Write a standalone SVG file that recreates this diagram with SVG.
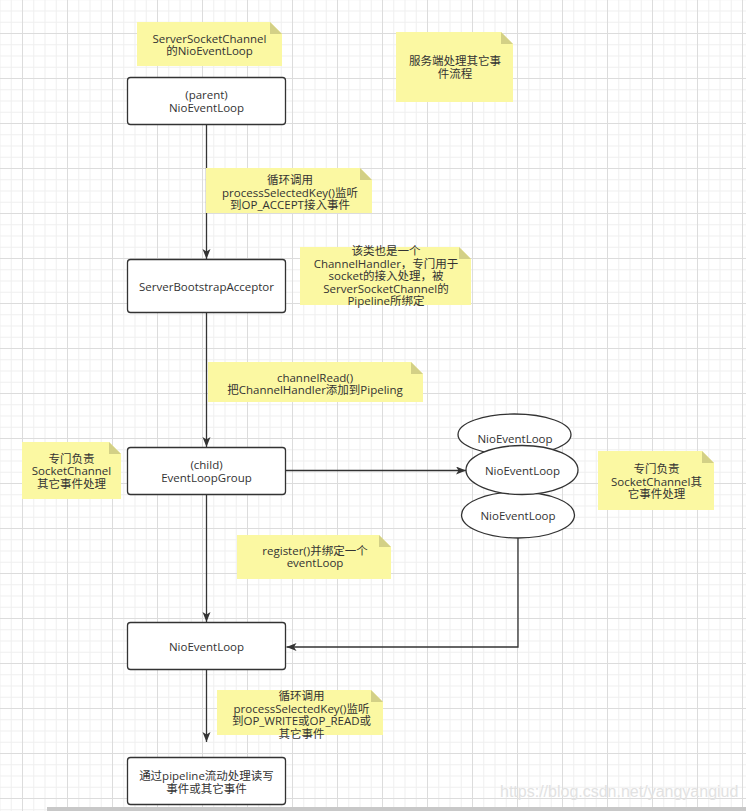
<svg xmlns="http://www.w3.org/2000/svg" width="746" height="811" viewBox="0 0 746 811">
<defs>
<pattern id="grid" x="22" y="33" width="45" height="45" patternUnits="userSpaceOnUse">
<path d="M11.75 0V45M23 0V45M34.25 0V45M0 11.75H45M0 23H45M0 34.25H45" stroke="#efefef" stroke-width="1" fill="none"/>
<path d="M0.5 0V45M0 0.5H45" stroke="#dcdcdc" stroke-width="1" fill="none"/>
</pattern>
<marker id="arr" markerUnits="userSpaceOnUse" markerWidth="11" markerHeight="9" refX="10" refY="4" orient="auto">
<path d="M0,0 L10,4 L0,8 L2.5,4 Z" fill="#333"/>
</marker>
<style>
.box{fill:#fff;stroke:#333;stroke-width:1.3}
.note{fill:#fbf8a2}
.fold{fill:#d3d086}
.t{font-family:"Open Sans","Noto Sans CJK SC",sans-serif;font-size:11.5px;fill:#333;text-anchor:middle}
.edge{fill:none;stroke:#333;stroke-width:1.3}
.ell{fill:#fff;stroke:#333;stroke-width:1.3}
</style>
</defs>
<rect width="746" height="811" fill="#fff"/>
<rect width="746" height="811" fill="url(#grid)"/>
<rect x="47" y="807" width="699" height="4" fill="#c8c8c8"/>
<text x="500" y="797" font-family="Liberation Sans, Arial, sans-serif" font-size="16" fill="#e2e2e2">https://blog.csdn.net/yangyangiud</text>

<g id="connectors">
<path class="edge" d="M206.5 124.5V259" marker-end="url(#arr)"/>
<path class="edge" d="M206.5 312.5V447" marker-end="url(#arr)"/>
<path class="edge" d="M286 470.5H466" marker-end="url(#arr)"/>
<path class="edge" d="M206.5 494.5V622" marker-end="url(#arr)"/>
<path class="edge" d="M518 538V647H286.5" marker-end="url(#arr)"/>
<path class="edge" d="M206.5 669.5V742" marker-end="url(#arr)"/>
</g>

<g id="note-server-socket-channel">
<path class="note" d="M137 22H270L282 34V66H137Z"/><path class="fold" d="M270 22V34H282Z"/>
<text class="t"><tspan x="209.5" y="42.75">ServerSocketChannel</tspan><tspan x="209.5" y="55.25">的NioEventLoop</tspan></text>
</g>

<g id="node-parent">
<rect class="box" x="127.5" y="77.5" width="158" height="47" rx="3"/>
<text class="t"><tspan x="206.5" y="99">(parent)</tspan><tspan x="206.5" y="111.5">NioEventLoop</tspan></text>
</g>

<g id="note-title">
<path class="note" d="M396 32H501L513 44V102H396Z"/><path class="fold" d="M501 32V44H513Z"/>
<text class="t"><tspan x="455" y="65">服务端处理其它事</tspan><tspan x="455" y="77.5">件流程</tspan></text>
</g>

<g id="note-accept">
<path class="note" d="M206 168H360L372 180V213H206Z"/><path class="fold" d="M360 168V180H372Z"/>
<text class="t"><tspan x="290" y="184">循环调用</tspan><tspan x="290" y="196.5">processSelectedKey()监听</tspan><tspan x="290" y="209">到OP_ACCEPT接入事件</tspan></text>
</g>

<g id="node-acceptor">
<rect class="box" x="127.5" y="259.5" width="158" height="53" rx="3"/>
<text class="t" x="206.5" y="290.5">ServerBootstrapAcceptor</text>
</g>

<g id="note-acceptor">
<path class="note" d="M300 247H459L471 259V305H300Z"/><path class="fold" d="M459 247V259H471Z"/>
<text class="t"><tspan x="386" y="255">该类也是一个</tspan><tspan x="386" y="267.5">ChannelHandler，专门用于</tspan><tspan x="386" y="280">socket的接入处理，被</tspan><tspan x="386" y="292.5">ServerSocketChannel的</tspan><tspan x="386" y="305">Pipeline所绑定</tspan></text>
</g>

<g id="note-channelread">
<path class="note" d="M208 362H411L423 374V402H208Z"/><path class="fold" d="M411 362V374H423Z"/>
<text class="t"><tspan x="315" y="381.75">channelRead()</tspan><tspan x="315" y="394.25">把ChannelHandler添加到Pipeling</tspan></text>
</g>

<g id="node-child">
<rect class="box" x="127.5" y="447.5" width="158" height="47" rx="3"/>
<text class="t"><tspan x="206.5" y="469">(child)</tspan><tspan x="206.5" y="481.5">EventLoopGroup</tspan></text>
</g>

<g id="note-left">
<path class="note" d="M22 442H109L121 454V499H22Z"/><path class="fold" d="M109 442V454H121Z"/>
<text class="t"><tspan x="71.5" y="462.5">专门负责</tspan><tspan x="71.5" y="475">SocketChannel</tspan><tspan x="71.5" y="487.5">其它事件处理</tspan></text>
</g>

<g id="loop-1">
<ellipse class="ell" cx="514.5" cy="434.5" rx="56.5" ry="20.5"/>
<text class="t" x="515" y="442.5">NioEventLoop</text>
</g>
<g id="loop-3">
<ellipse class="ell" cx="518" cy="515" rx="56.5" ry="23"/>
<text class="t" x="518" y="519.5">NioEventLoop</text>
</g>
<g id="loop-2">
<ellipse class="ell" cx="522" cy="470" rx="56" ry="24.5"/>
<text class="t" x="522.5" y="475">NioEventLoop</text>
</g>

<g id="note-right">
<path class="note" d="M598 451H702L714 463V510H598Z"/><path class="fold" d="M702 451V463H714Z"/>
<text class="t"><tspan x="656.5" y="473">专门负责</tspan><tspan x="656.5" y="485.5">SocketChannel其</tspan><tspan x="656.5" y="498">它事件处理</tspan></text>
</g>

<g id="note-register">
<path class="note" d="M237 535H379L391 547V579H237Z"/><path class="fold" d="M379 535V547H391Z"/>
<text class="t"><tspan x="315" y="554.75">register()并绑定一个</tspan><tspan x="315" y="567.25">eventLoop</tspan></text>
</g>

<g id="node-nioeventloop">
<rect class="box" x="127.5" y="622.5" width="158" height="47" rx="3"/>
<text class="t" x="206.5" y="650.5">NioEventLoop</text>
</g>

<g id="note-select">
<path class="note" d="M217 690H371L383 702V735H217Z"/><path class="fold" d="M371 690V702H383Z"/>
<text class="t"><tspan x="301.5" y="700">循环调用</tspan><tspan x="301.5" y="712.5">processSelectedKey()监听</tspan><tspan x="301.5" y="725">到OP_WRITE或OP_READ或</tspan><tspan x="301.5" y="737.5">其它事件</tspan></text>
</g>

<g id="node-pipeline">
<rect class="box" x="127.5" y="757.5" width="158" height="47" rx="3"/>
<text class="t"><tspan x="206.5" y="780.25">通过pipeline流动处理读写</tspan><tspan x="206.5" y="792.75">事件或其它事件</tspan></text>
</g>
</svg>
